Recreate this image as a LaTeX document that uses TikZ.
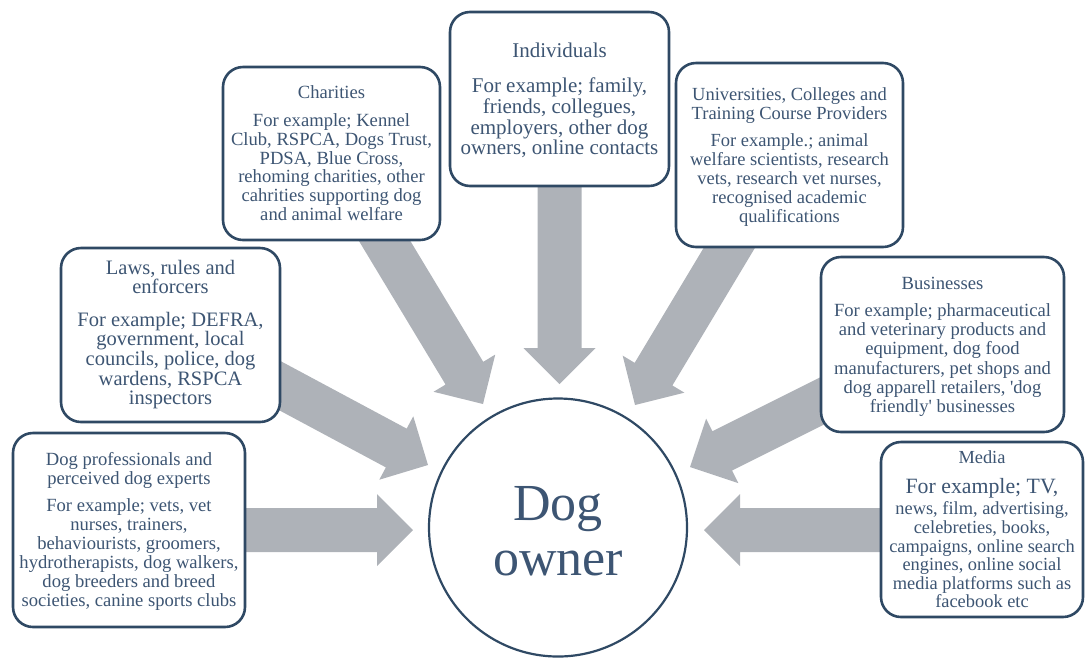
\documentclass[tikz,border=0pt]{standalone}
\usepackage{fontspec}
\setmainfont{Liberation Serif}
\usetikzlibrary{calc,backgrounds}
\definecolor{arrowgrey}{HTML}{AEB2B8}
\definecolor{boxline}{HTML}{2F4964}
\definecolor{boxtext}{HTML}{3D5573}
\newcommand\fatarrow[2]{%
  \path ($(#2)!36pt!(#1)$) coordinate (hb);
  \fill[arrowgrey] ($(#1)!22pt!90:(#2)$) -- ($(hb)!22pt!-90:(#1)$) -- ($(hb)!36pt!-90:(#1)$) -- (#2) -- ($(hb)!36pt!90:(#1)$) -- ($(hb)!22pt!90:(#1)$) -- ($(#1)!22pt!-90:(#2)$) -- cycle;}
\begin{document}
\begin{tikzpicture}[x=1pt,y=-1pt,
  box/.style={draw=boxline, line width=2.6pt, rounded corners=20pt, fill=white, inner sep=0pt},
  boxtxt/.style={align=center, text=boxtext, inner sep=0pt}]
\useasboundingbox (0,0) rectangle (1086,657);

% boxes
\node[box, minimum width=217pt, minimum height=173pt] (charities) at (331.5,153.5) {};
\node[box, minimum width=219pt, minimum height=174pt] (individuals) at (559.5,99) {};
\node[box, minimum width=227pt, minimum height=184pt] (universities) at (789.5,155) {};
\node[box, minimum width=219pt, minimum height=174pt] (laws) at (170.5,335) {};
\node[box, minimum width=243pt, minimum height=175pt] (businesses) at (942.5,344.5) {};
\node[box, minimum width=232pt, minimum height=194pt] (dogpro) at (129,530) {};
\node[box, minimum width=202pt, minimum height=175pt] (media) at (982,529.5) {};

% circle
\node[circle, draw=boxline, line width=2.2pt, fill=white, minimum size=258pt, inner sep=0pt] (owner) at (558,527.5) {};
\node[align=center, text=boxtext, inner sep=0pt, font=\fontsize{52}{55}\selectfont] (ownerT) at (558,531.5) {Dog\\owner};

% texts
\node[boxtxt, font=\fontsize{18.6}{18.8}\selectfont] (charitiesT) at (331.5,153)
  {Charities\\[9.5pt]For example; Kennel\\Club, RSPCA, Dogs Trust,\\PDSA, Blue Cross,\\rehoming charities, other\\cahrities supporting dog\\and animal welfare};
\node[boxtxt, font=\fontsize{21}{20.7}\selectfont] (individualsT) at (559.5,100.5)
  {Individuals\\[14.3pt]For example; family,\\friends, collegues,\\employers, other dog\\owners, online contacts};
\node[boxtxt, font=\fontsize{18.5}{19.1}\selectfont] (universitiesT) at (789.5,157.4)
  {Universities, Colleges and\\[-1pt]Training Course Providers\\[8.2pt]For example.; animal\\welfare scientists, research\\vets, research vet nurses,\\recognised academic\\qualifications};
\node[boxtxt, font=\fontsize{20.5}{19.7}\selectfont] (lawsT) at (170.5,334.5)
  {Laws, rules and\\enforcers\\[12.6pt]For example; DEFRA,\\government, local\\councils, police, dog\\wardens, RSPCA\\inspectors};
\node[boxtxt, font=\fontsize{18.6}{19.1}\selectfont] (businessesT) at (942.5,346.5)
  {Businesses\\[8.6pt]For example; pharmaceutical\\and veterinary products and\\equipment, dog food\\manufacturers, pet shops and\\dog apparell retailers, \textquotesingle dog\\friendly\textquotesingle\ businesses};
\node[boxtxt, font=\fontsize{18.6}{18.85}\selectfont] (dogproT) at (129,531.3)
  {Dog professionals and\\[0.15pt]perceived dog experts\\[8.5pt]For example; vets, vet\\nurses, trainers,\\behaviourists, groomers,\\hydrotherapists, dog walkers,\\dog breeders and breed\\societies, canine sports clubs};
\node[boxtxt, font=\fontsize{18.4}{18.6}\selectfont] (mediaT) at (982,529.3)
  {Media\\[11.2pt]{\fontsize{21.8}{18.6}\selectfont For example; TV,}\\[3pt]news, film, advertising,\\celebreties, books,\\campaigns, online search\\engines, online social\\media platforms such as\\facebook etc};

% arrows
\coordinate (iS) at (559.5,150); \coordinate (iT) at (559.5,384);
\coordinate (cS) at (375,225);   \coordinate (cT) at (483,404);
\coordinate (uS) at (740,230);   \coordinate (uT) at (635,405);
\coordinate (lS) at (260,375);   \coordinate (lT) at (428,465);
\coordinate (bS) at (842,391);   \coordinate (bT) at (690,467);
\coordinate (dS) at (200,530);   \coordinate (dT) at (413,530);
\coordinate (mS) at (920,530);   \coordinate (mT) at (704,530);
\begin{scope}[on background layer]
  \fatarrow{iS}{iT}
  \fatarrow{cS}{cT}
  \fatarrow{uS}{uT}
  \fatarrow{lS}{lT}
  \fatarrow{bS}{bT}
  \fatarrow{dS}{dT}
  \fatarrow{mS}{mT}
\end{scope}
\end{tikzpicture}
\end{document}
